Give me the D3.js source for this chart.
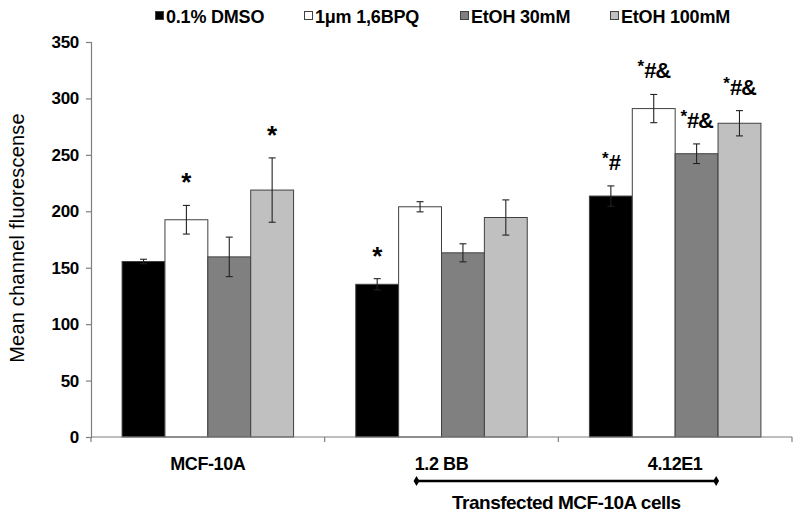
<!DOCTYPE html>
<html>
<head>
<meta charset="utf-8">
<script src="https://cdn.jsdelivr.net/npm/d3@7"></script>
<style>
  html, body { margin: 0; padding: 0; background: #fff; }
  svg { display: block; font-family: Arial, "Liberation Sans", sans-serif; }
</style>
</head>
<body>
<svg id="chart" width="800" height="518"></svg>
<script>
// ---- data ----
const categories = ["MCF-10A", "1.2 BB", "4.12E1"];
const seriesNames = ["0.1% DMSO", "1\u03bcm 1,6BPQ", "EtOH 30mM", "EtOH 100mM"];
const seriesColors = ["#000000", "#ffffff", "#808080", "#c0c0c0"];
const valuesDMSO = [155.5, 135.3, 213.5];
const valuesBPQ = [192.5, 204.0, 291.0];
const valuesEtOH30 = [159.6, 163.2, 251.0];
const valuesEtOH100 = [218.8, 194.5, 278.0];
const errDMSO = [2, 5, 9];
const errBPQ = [12.7, 4.5, 12.5];
const errEtOH30 = [17.5, 8, 8.7];
const errEtOH100 = [28.5, 15.6, 11.2];
const sigDMSO = ["", "*", "*#"];
const sigBPQ = ["*", "", "*#&"];
const sigEtOH30 = ["", "", "*#&"];
const sigEtOH100 = ["*", "", "*#&"];
const yTicks = [0, 50, 100, 150, 200, 250, 300, 350];
const yLabel = "Mean channel fluorescense";
const bracketLabel = "Transfected MCF-10A cells";
const bracketFrom = "1.2 BB", bracketTo = "4.12E1";

const allValues = [valuesDMSO, valuesBPQ, valuesEtOH30, valuesEtOH100];
const allErr = [errDMSO, errBPQ, errEtOH30, errEtOH100];
const allSig = [sigDMSO, sigBPQ, sigEtOH30, sigEtOH100];

const rows = [];
categories.forEach((c, ci) => {
  seriesNames.forEach((s, si) => {
    rows.push({cat: c, series: s, si, value: allValues[si][ci], err: allErr[si][ci], sig: allSig[si][ci]});
  });
});

// ---- layout ----
const svg = d3.select("#chart");
const mLeft = 91, mRight = 792, mTop = 42, mBottom = 437;
const x0 = d3.scaleBand().domain(categories).range([mLeft, mRight]).padding(0);
const x1 = d3.scaleBand().domain(seriesNames).range([0, x0.bandwidth()]).paddingInner(0).paddingOuter(0.725);
const y = d3.scaleLinear().domain([0, 350]).range([mBottom, mTop]);
const color = d3.scaleOrdinal().domain(seriesNames).range(seriesColors);
const axisColor = "#7f7f7f";

// y axis
const yAxis = svg.append("g").attr("transform", `translate(${mLeft},0)`)
  .call(d3.axisLeft(y).tickValues(yTicks).tickSize(5).tickPadding(7).tickFormat(d3.format("d")));
yAxis.select(".domain").attr("stroke", axisColor).attr("stroke-width", 1.2);
yAxis.selectAll(".tick line").attr("stroke", axisColor).attr("stroke-width", 1.2);
yAxis.selectAll(".tick text").attr("font-size", 17).attr("font-weight", "bold").attr("fill", "#000")
  .attr("letter-spacing", -0.3)
  .attr("font-family", "Arial, 'Liberation Sans', sans-serif");

// bars
const bars = svg.append("g");
bars.selectAll("rect").data(rows).join("rect")
  .attr("x", d => x0(d.cat) + x1(d.series))
  .attr("y", d => y(d.value))
  .attr("width", x1.bandwidth())
  .attr("height", d => y(0) - y(d.value))
  .attr("fill", d => color(d.series))
  .attr("stroke", "#404040").attr("stroke-width", 1);

// error bars
const eb = svg.append("g").attr("stroke", "#222").attr("stroke-width", 1.1);
rows.forEach(d => {
  const cx = x0(d.cat) + x1(d.series) + x1.bandwidth() / 2;
  const yt = y(d.value + d.err), yb = y(d.value - d.err);
  eb.append("line").attr("x1", cx).attr("x2", cx).attr("y1", yt).attr("y2", yb);
  eb.append("line").attr("x1", cx - 3.5).attr("x2", cx + 3.5).attr("y1", yt).attr("y2", yt);
  eb.append("line").attr("x1", cx - 3.5).attr("x2", cx + 3.5).attr("y1", yb).attr("y2", yb);
});

// x axis
const xAxis = svg.append("g").attr("transform", `translate(0,${mBottom})`);
xAxis.append("line").attr("x1", mLeft).attr("x2", mRight).attr("y1", 0).attr("y2", 0)
  .attr("stroke", axisColor).attr("stroke-width", 1.2);
const boundaries = categories.map(c => x0(c)).concat([x0(categories[categories.length - 1]) + x0.bandwidth()]);
xAxis.selectAll("line.tk").data(boundaries).join("line").attr("class", "tk")
  .attr("x1", d => d).attr("x2", d => d).attr("y1", 0).attr("y2", 5)
  .attr("stroke", axisColor).attr("stroke-width", 1.2);
xAxis.selectAll("text").data(categories).join("text")
  .attr("x", d => x0(d) + x0.bandwidth() / 2).attr("y", 33)
  .attr("text-anchor", "middle").attr("font-size", 18).attr("font-weight", "bold")
  .attr("letter-spacing", -0.4)
  .text(d => d);

// significance labels
const sig = svg.append("g").attr("font-weight", "bold").attr("fill", "#000");
rows.filter(d => d.sig).forEach(d => {
  const cx = x0(d.cat) + x1(d.series) + x1.bandwidth() / 2;
  const yt = y(d.value + d.err);
  const t = sig.append("text").attr("x", cx).attr("text-anchor", "middle");
  const star = d.sig[0], rest = d.sig.slice(1);
  if (rest) {
    t.attr("y", yt - 16);
    t.append("tspan").attr("font-size", 17).attr("dy", -6).text(star);
    t.append("tspan").attr("font-size", 22).attr("dy", 6).attr("letter-spacing", -1.2).text(rest);
  } else {
    t.attr("y", yt - 22);
    t.append("tspan").attr("font-size", 26).attr("dy", 8).text(star);
  }
});

// bracket
const bx1 = x0(bracketFrom) + x0.bandwidth() / 2 - 25;
const bx2 = x0(bracketTo) + x0.bandwidth() / 2 + 41;
const by = mBottom + 44;
svg.append("line").attr("x1", bx1).attr("x2", bx2).attr("y1", by).attr("y2", by)
  .attr("stroke", "#000").attr("stroke-width", 2.5);
[bx1, bx2].forEach(bx => {
  svg.append("path").attr("d", d3.symbol().type(d3.symbolDiamond).size(30)())
    .attr("transform", `translate(${bx},${by})`).attr("fill", "#000");
});
svg.append("text").attr("x", (bx1 + bx2) / 2).attr("y", by + 28)
  .attr("text-anchor", "middle").attr("font-size", 19).attr("font-weight", "bold")
  .attr("letter-spacing", -0.5).text(bracketLabel);

// y label
svg.append("text").attr("transform", `translate(24,238) rotate(-90)`)
  .attr("text-anchor", "middle").attr("font-size", 20).attr("letter-spacing", 0.2).text(yLabel);

// legend
const legendX = [155, 304, 460, 610];
const lg = svg.append("g");
seriesNames.forEach((s, i) => {
  const g = lg.append("g").attr("transform", `translate(${legendX[i]},0)`);
  g.append("rect").attr("x", 0.5).attr("y", 11.5).attr("width", 8).attr("height", 8)
    .attr("fill", color(s)).attr("stroke", "#404040").attr("stroke-width", 1);
  g.append("text").attr("x", 11).attr("y", 22.5).attr("font-size", 18).attr("font-weight", "bold")
    .attr("letter-spacing", -0.2).text(s);
});
</script>
</body>
</html>
